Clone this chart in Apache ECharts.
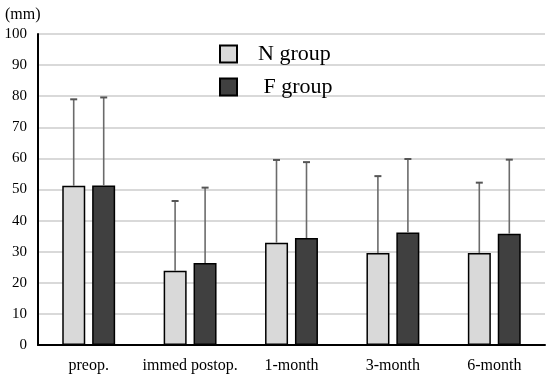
<!DOCTYPE html>
<html>
<head>
<meta charset="utf-8">
<script src="https://cdn.jsdelivr.net/npm/echarts@6/dist/echarts.min.js"></script>
<style>html,body{margin:0;padding:0;background:#fff;}#c{width:550px;height:380px;}</style>
</head>
<body>
<div id="c"></div>
<script>
const categories = ['preop.', 'immed postop.', '1-month', '3-month', '6-month'];
const nMean = [51.2, 23.9, 32.9, 29.6, 29.6];
const fMean = [51.3, 26.4, 34.4, 36.2, 35.8];
const nUpper = [79.0, 46.3, 59.5, 54.3, 52.2];
const fUpper = [79.6, 50.6, 58.8, 59.8, 59.6];
const yTicks = [0, 10, 20, 30, 40, 50, 60, 70, 80, 90, 100];

const FONT = '"Liberation Serif", "DejaVu Serif", serif';
const chart = echarts.init(document.getElementById('c'));

function errSeries(means, uppers, offset) {
  return {
    type: 'custom',
    z: 5,
    silent: true,
    data: means.map((m, i) => [i, m, uppers[i]]),
    renderItem: function (params, api) {
      const p0 = api.coord([api.value(0), api.value(1)]);
      const p1 = api.coord([api.value(0), api.value(2)]);
      const x = p0[0] + offset;
      const style = { stroke: '#6b6b6b', lineWidth: 1.6 };
      return {
        type: 'group',
        children: [
          { type: 'line', shape: { x1: x, y1: p0[1], x2: x, y2: p1[1] }, style: style },
          { type: 'line', shape: { x1: x - 3.5, y1: p1[1], x2: x + 3.5, y2: p1[1] }, style: { stroke: '#555', lineWidth: 2 } }
        ]
      };
    }
  };
}

chart.setOption({
  animation: false,
  backgroundColor: '#fff',
  grid: { left: 38, right: 5, top: 34, bottom: 35 },
  graphic: [{
    type: 'text', left: 5, top: 7,
    style: { text: '(mm)', font: '16px ' + FONT, fill: '#000' }
  }],
  legend: {
    orient: 'vertical',
    left: 219, top: 43,
    padding: 0,
    itemWidth: 17, itemHeight: 17,
    itemGap: 11,
    icon: 'rect',
    textStyle: { fontFamily: FONT, fontSize: 22, color: '#000', padding: [0, 0, 0, 16] },
    formatter: function (name) { return name === 'F group' ? ' ' + name : name; },
    data: ['N group', 'F group']
  },
  xAxis: {
    type: 'category',
    data: categories,
    axisLine: { lineStyle: { color: '#000', width: 2 } },
    axisTick: { show: false },
    axisLabel: { interval: 0, fontFamily: FONT, fontSize: 16, color: '#000', margin: 13 }
  },
  yAxis: {
    type: 'value',
    min: 0, max: 100, interval: 10,
    axisLine: { show: true, lineStyle: { color: '#000', width: 2 } },
    axisTick: { show: false },
    axisLabel: { fontFamily: FONT, fontSize: 15, color: '#000', margin: 11,
      formatter: function (v) { return yTicks.indexOf(v) >= 0 ? String(v) : ''; } },
    splitLine: { lineStyle: { color: '#d9d9d9', width: 2 } }
  },
  series: [
    {
      name: 'N group', type: 'bar', data: nMean,
      barWidth: 23, barGap: '30%',
      itemStyle: { color: '#d9d9d9', borderColor: '#000', borderWidth: 1.5 }
    },
    {
      name: 'F group', type: 'bar', data: fMean,
      barWidth: 23,
      itemStyle: { color: '#404040', borderColor: '#000', borderWidth: 1.5 }
    },
    errSeries(nMean, nUpper, -15),
    errSeries(fMean, fUpper, 15)
  ]
});
</script>
</body>
</html>
